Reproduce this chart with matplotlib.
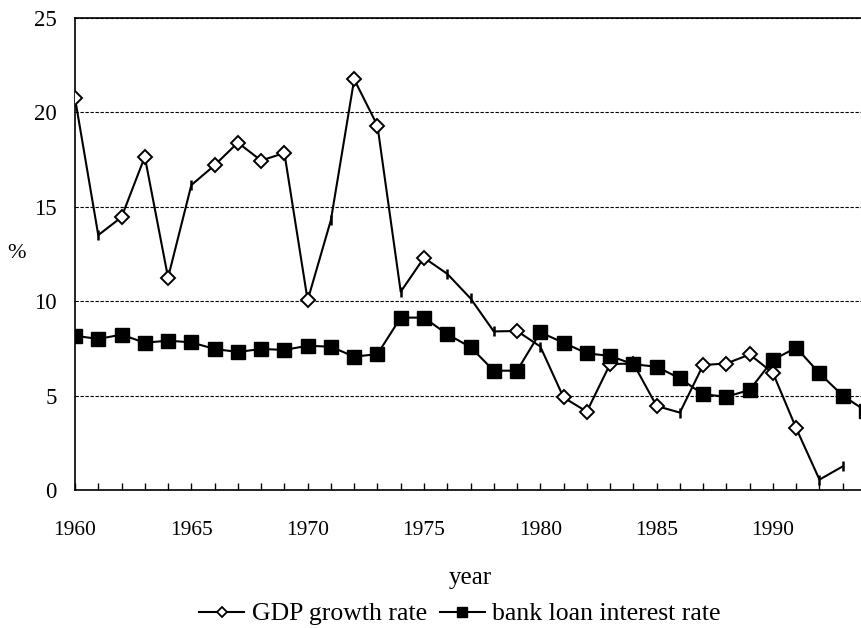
import numpy as np
import matplotlib.pyplot as plt
from matplotlib.lines import Line2D

plt.rcParams['font.family'] = ['Liberation Serif', 'DejaVu Serif']

years = list(range(1960, 1995))
gdp_years = list(range(1960, 1994))
gdp_growth = [20.75, 13.5, 14.45, 17.65, 11.25, 16.15, 17.2, 18.4, 17.45, 17.85,
              10.05, 14.3, 21.75, 19.3, 10.5, 12.3, 11.45, 10.15, 8.4, 8.42,
              7.6, 4.9, 4.15, 6.67, 6.7, 4.45, 4.1, 6.62, 6.7, 7.18,
              6.2, 3.27, 0.55, 1.25]
# points where the diamond marker is not drawn in the original chart
gdp_no_marker = [1961, 1965, 1971, 1974, 1976, 1977, 1978, 1980, 1986, 1992, 1993]
loan_rate = [8.17, 8.0, 8.23, 7.8, 7.91, 7.82, 7.47, 7.31, 7.47, 7.42,
             7.64, 7.59, 7.06, 7.2, 9.13, 9.13, 8.25, 7.57, 6.32, 6.32,
             8.35, 7.8, 7.24, 7.1, 6.66, 6.53, 5.91, 5.07, 4.94, 5.3,
             6.89, 7.54, 6.18, 5.0, 4.18]

fig = plt.figure(figsize=(8.61, 6.28), dpi=100)
ax = fig.add_axes([75 / 861, 1 - 490 / 628, 791 / 861, 472 / 628])

gdp_x = np.array(gdp_years)
gdp_y = np.array(gdp_growth)
mask = np.isin(gdp_x, gdp_no_marker)

ax.plot(gdp_x, gdp_y, color='black', lw=1.5, zorder=3)
ax.plot(gdp_x[~mask], gdp_y[~mask], ls='none', marker='D', ms=7,
        mfc='white', mec='black', mew=1.4, zorder=4)
ax.plot(gdp_x[mask], gdp_y[mask], ls='none', marker='|', ms=7,
        mec='black', mew=1.8, zorder=4)
ax.plot(years, loan_rate, color='black', lw=1.5, marker='s', ms=9.5,
        mfc='black', mec='black', zorder=5)

ax.set_xlim(1960, 1994)
ax.set_ylim(0, 25)
ax.set_yticks([0, 5, 10, 15, 20, 25])
ax.set_xticks(range(1960, 1995, 5))
ax.set_xticks(range(1960, 1995), minor=True)
ax.tick_params(axis='x', which='both', direction='in', length=5, width=1,
               labelsize=15.5, pad=22)
ax.tick_params(axis='y', length=0, labelsize=16.5, pad=13)
ax.grid(axis='y', ls=(0, (3, 1.5)), lw=0.8, color='black')

ax.spines['right'].set_visible(False)
for s in ['left', 'bottom', 'top']:
    ax.spines[s].set_linewidth(1.2)

ax.set_xlabel('year', fontsize=18, labelpad=20)
fig.text(16 / 861, 1 - 253 / 628, '%', fontsize=16, ha='center', va='center')

h1 = Line2D([], [], color='black', lw=1.5, marker='D', ms=5.5,
            mfc='white', mec='black', mew=1.3)
h2 = Line2D([], [], color='black', lw=1.5, marker='s', ms=7, mfc='black')
fig.legend([h1, h2], ['GDP growth rate', 'bank loan interest rate'],
           loc='center', bbox_to_anchor=(460 / 861, 1 - 614 / 628), ncol=2,
           frameon=False, fontsize=18.5, handlelength=1.75, handletextpad=0.3,
           columnspacing=0.5)

fig.savefig('out.png', dpi=100)
